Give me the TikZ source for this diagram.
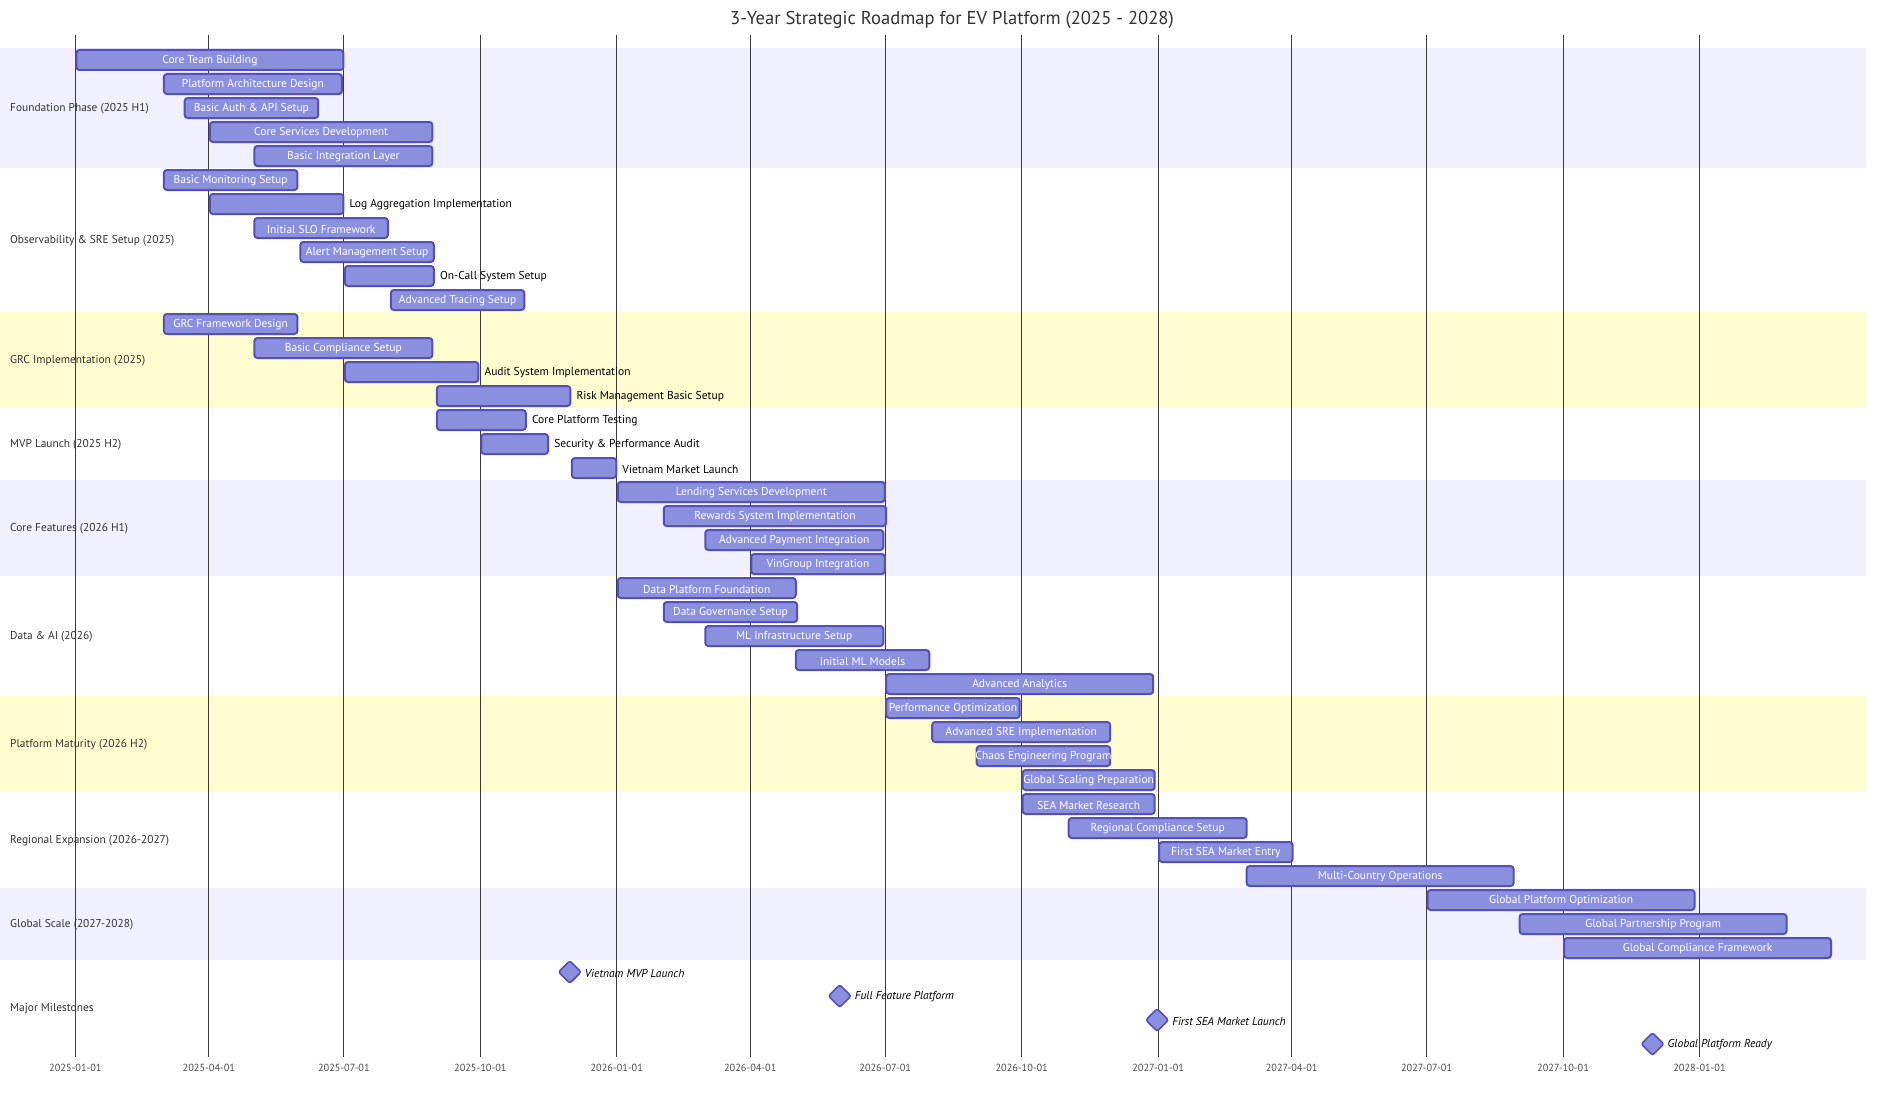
\documentclass[tikz,border=0pt]{standalone}
\usepackage{fontspec}
\setmainfont{PT Sans}
\definecolor{barfill}{HTML}{8A90DD}
\definecolor{barline}{HTML}{534FBC}
\definecolor{secA}{HTML}{F0F0FF}
\definecolor{secC}{HTML}{FFFCD0}
\definecolor{gridc}{HTML}{3A3A3A}
\definecolor{txtc}{HTML}{333333}
\tikzset{
  taskbar/.style={rectangle, draw=barline, fill=barfill, line width=2pt, rounded corners=3pt, minimum height=20pt, inner sep=0pt},
  intext/.style={font=\fontsize{11.5}{13}\selectfont, text=white, inner sep=0pt},
  outtext/.style={font=\fontsize{11.5}{13}\selectfont, text=black, inner sep=0pt, anchor=west},
  sectext/.style={font=\fontsize{11.4}{13}\selectfont, text=txtc, inner sep=0pt, anchor=west},
  axtext/.style={font=\fontsize{10.3}{12}\selectfont, text=black!70, inner sep=0pt},
  titletext/.style={font=\fontsize{18.6}{21}\selectfont, text=txtc, inner sep=0pt},
  gridline/.style={draw=gridc, line width=0.8pt},
  msdiamond/.style={rectangle, rotate=45, draw=barline, fill=barfill, line width=1.6pt, rounded corners=2.4pt, minimum size=16pt, inner sep=0pt},
  mstext/.style={font=\fontsize{11.5}{13}\selectfont\itshape, text=black, inner sep=0pt, anchor=west}
}
\newcommand\gbar[4]{%
  \pgfmathsetmacro\gxa{75.4+1.4832*#3}%
  \pgfmathsetmacro\gw{1.4832*(#4-#3)}%
  \pgfmathsetmacro\gy{60+24*#2}%
  \node[taskbar, minimum width=\gw pt, anchor=west] (#1) at (\gxa,\gy) {};%
}
\newcommand\gin[5]{\gbar{#1}{#2}{#3}{#4}\node[intext] (#1-l) at ([yshift=-1pt]#1.center) {#5};}
\newcommand\gout[5]{\gbar{#1}{#2}{#3}{#4}\node[outtext] (#1-l) at ([xshift=5pt,yshift=-1pt]#1.east) {#5};}
\newcommand\gms[4]{%
  \pgfmathsetmacro\gxa{75.4+1.4832*#3}%
  \pgfmathsetmacro\gy{60+24*#2}%
  \node[msdiamond] (#1) at (\gxa-1,\gy) {};%
  \node[mstext] (#1-l) at (\gxa+14,\gy+1) {#4};%
}
\begin{document}
\begin{tikzpicture}[x=1pt,y=-1pt]
\useasboundingbox (0,0) rectangle (1904,1108);
\fill[white] (0,0) rectangle (1904,1108);
% section bands
\fill[secA] (0,48) rectangle (1866,168);
\fill[secC] (0,312) rectangle (1866,408);
\fill[secA] (0,480) rectangle (1866,576);
\fill[secC] (0,696) rectangle (1866,792);
\fill[secA] (0,888) rectangle (1866,960);
% grid
\foreach \d/\lab [count=\i] in {0/2025-01-01,90/2025-04-01,181/2025-07-01,273/2025-10-01,365/2026-01-01,455/2026-04-01,546/2026-07-01,638/2026-10-01,730/2027-01-01,820/2027-04-01,911/2027-07-01,1003/2027-10-01,1095/2028-01-01}{
  \pgfmathsetmacro\gx{75.4+1.4832*\d}
  \draw[gridline] (\gx,35) -- (\gx,1057);
  \node[axtext] (tick\i) at (\gx,1068) {\lab};
}
% title
\node[titletext] (title) at (952,20) {3-Year Strategic Roadmap for EV Platform (2025 - 2028)};
% section labels
\node[sectext] (s1) at (10,109) {Foundation Phase (2025 H1)};
\node[sectext] (s2) at (10,241) {Observability \& SRE Setup (2025)};
\node[sectext] (s3) at (10,361) {GRC Implementation (2025)};
\node[sectext] (s4) at (10,445) {MVP Launch (2025 H2)};
\node[sectext] (s5) at (10,529) {Core Features (2026 H1)};
\node[sectext] (s6) at (10,637) {Data \& AI (2026)};
\node[sectext] (s7) at (10,745) {Platform Maturity (2026 H2)};
\node[sectext] (s8) at (10,841) {Regional Expansion (2026-2027)};
\node[sectext] (s9) at (10,925) {Global Scale (2027-2028)};
\node[sectext] (s10) at (10,1009) {Major Milestones};
% tasks
\gin{t0}{0}{0}{180}{Core Team Building}
\gin{t1}{1}{59}{179}{Platform Architecture Design}
\gin{t2}{2}{73}{163}{Basic Auth \& API Setup}
\gin{t3}{3}{90}{240}{Core Services Development}
\gin{t4}{4}{120}{240}{Basic Integration Layer}
\gin{t5}{5}{59}{149}{Basic Monitoring Setup}
\gout{t6}{6}{90}{180}{Log Aggregation Implementation}
\gin{t7}{7}{120}{210}{Initial SLO Framework}
\gin{t8}{8}{151}{241}{Alert Management Setup}
\gout{t9}{9}{181}{241}{On-Call System Setup}
\gin{t10}{10}{212}{302}{Advanced Tracing Setup}
\gin{t11}{11}{59}{149}{GRC Framework Design}
\gin{t12}{12}{120}{240}{Basic Compliance Setup}
\gout{t13}{13}{181}{271}{Audit System Implementation}
\gout{t14}{14}{243}{333}{Risk Management Basic Setup}
\gout{t15}{15}{243}{303}{Core Platform Testing}
\gout{t16}{16}{273}{318}{Security \& Performance Audit}
\gout{t17}{17}{334}{364}{Vietnam Market Launch}
\gin{t18}{18}{365}{545}{Lending Services Development}
\gin{t19}{19}{396}{546}{Rewards System Implementation}
\gin{t20}{20}{424}{544}{Advanced Payment Integration}
\gin{t21}{21}{455}{545}{VinGroup Integration}
\gin{t22}{22}{365}{485}{Data Platform Foundation}
\gin{t23}{23}{396}{486}{Data Governance Setup}
\gin{t24}{24}{424}{544}{ML Infrastructure Setup}
\gin{t25}{25}{485}{575}{Initial ML Models}
\gin{t26}{26}{546}{726}{Advanced Analytics}
\gin{t27}{27}{546}{636}{Performance Optimization}
\gin{t28}{28}{577}{697}{Advanced SRE Implementation}
\gin{t29}{29}{607}{697}{Chaos Engineering Program}
\gin{t30}{30}{638}{727}{Global Scaling Preparation}
\gin{t31}{31}{638}{727}{SEA Market Research}
\gin{t32}{32}{669}{789}{Regional Compliance Setup}
\gin{t33}{33}{730}{820}{First SEA Market Entry}
\gin{t34}{34}{789}{969}{Multi-Country Operations}
\gin{t35}{35}{911}{1091}{Global Platform Optimization}
\gin{t36}{36}{973}{1153}{Global Partnership Program}
\gin{t37}{37}{1003}{1183}{Global Compliance Framework}
% milestones
\gms{m1}{38}{334}{Vietnam MVP Launch}
\gms{m2}{39}{516}{Full Feature Platform}
\gms{m3}{40}{730}{First SEA Market Launch}
\gms{m4}{41}{1064}{Global Platform Ready}
\end{tikzpicture}
\end{document}
